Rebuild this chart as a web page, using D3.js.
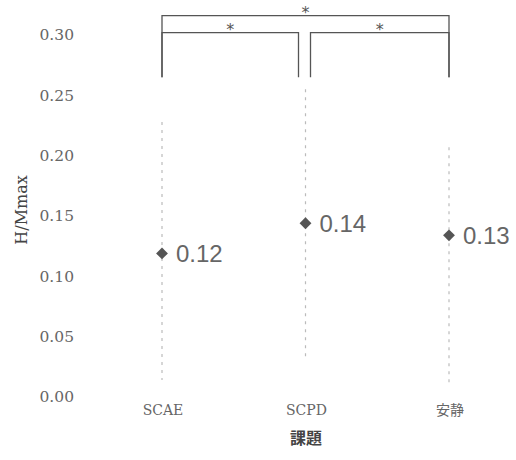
<!DOCTYPE html>
<html><head><meta charset="utf-8">
<script src="https://cdn.jsdelivr.net/npm/d3@7"></script>
<style>body{margin:0;background:#fff}svg{display:block}</style>
</head><body>
<svg id="c" width="516" height="460"></svg>
<script>
const categories = ["SCAE", "SCPD", "安静"];
const means = [0.119, 0.144, 0.134];
const errLow = [0.014, 0.031, 0.012];
const errHigh = [0.228, 0.255, 0.207];
const yTicks = [0, 0.05, 0.10, 0.15, 0.20, 0.25, 0.30];
// significance brackets
const brackets = [
  {from: "SCAE", to: "安静", level: 0.316, bottom: 0.265, dx1: 0, dx2: 0},
  {from: "SCAE", to: "SCPD", level: 0.302, bottom: 0.265, dx1: 0, dx2: -7},
  {from: "SCPD", to: "安静", level: 0.302, bottom: 0.265, dx1: 5, dx2: 0}
];

const svg = d3.select("#c");
const x = d3.scalePoint().domain(categories).range([162, 449]);
const y = d3.scaleLinear().domain([0, 0.30]).range([397, 35]);

// y tick labels
svg.append("g").selectAll("text").data(yTicks).join("text")
  .attr("x", 74).attr("y", d => y(d)).attr("dy", "0.35em")
  .attr("text-anchor", "end")
  .attr("font-family", "DejaVu Serif").attr("font-size", 15.5)
  .attr("fill", "#666")
  .text(d3.format(".2f"));

// y axis title
svg.append("text")
  .attr("transform", `translate(21,${(y(0.15)+y(0.16))/2}) rotate(-90)`)
  .attr("text-anchor", "middle").attr("dy", "0.35em")
  .attr("font-family", "DejaVu Serif").attr("font-size", 16)
  .attr("fill", "#444").text("H/Mmax");

// category labels
svg.append("g").selectAll("text").data(categories).join("text")
  .attr("x", d => x(d) + 1).attr("y", 415)
  .attr("text-anchor", "middle")
  .attr("font-family", "DejaVu Serif, Noto Sans CJK JP").attr("font-size", 14)
  .attr("fill", "#666").text(d => d);

// x axis title
svg.append("text").attr("x", 306).attr("y", 444)
  .attr("text-anchor", "middle")
  .attr("font-family", "Noto Sans CJK JP").attr("font-weight", "bold")
  .attr("font-size", 16).attr("fill", "#444").text("課題");

// error bars (dashed)
svg.append("g").selectAll("line").data(categories).join("line")
  .attr("x1", d => x(d)).attr("x2", d => x(d))
  .attr("y1", (d, i) => y(errHigh[i])).attr("y2", (d, i) => y(errLow[i]))
  .attr("stroke", "#bbb").attr("stroke-width", 1.2)
  .attr("stroke-dasharray", "3,5");

// markers
const sym = d3.symbol().type(d3.symbolSquare).size(70);
svg.append("g").selectAll("path").data(categories).join("path")
  .attr("d", sym)
  .attr("transform", (d, i) => `translate(${x(d)},${y(means[i])}) rotate(45)`)
  .attr("fill", "#555");

// data labels
svg.append("g").selectAll("text").data(categories).join("text")
  .attr("x", d => x(d) + 14).attr("y", (d, i) => y(means[i])).attr("dy", "0.36em")
  .attr("font-family", "Liberation Sans").attr("font-size", 24)
  .attr("fill", "#666").text((d, i) => d3.format(".2f")(means[i]));

// brackets
const bg = svg.append("g");
brackets.forEach(b => {
  const x1 = x(b.from) + b.dx1, x2 = x(b.to) + b.dx2;
  const p = d3.path();
  p.moveTo(x1, y(b.bottom)); p.lineTo(x1, y(b.level));
  p.lineTo(x2, y(b.level)); p.lineTo(x2, y(b.bottom));
  bg.append("path").attr("d", p.toString())
    .attr("fill", "none").attr("stroke", "#555").attr("stroke-width", 1.3);
  bg.append("text").attr("x", (x1 + x2) / 2).attr("y", y(b.level) + 2)
    .attr("text-anchor", "middle").attr("font-family", "DejaVu Sans")
    .attr("font-size", 16).attr("fill", "#555").text("*");
});
</script>
</body></html>
